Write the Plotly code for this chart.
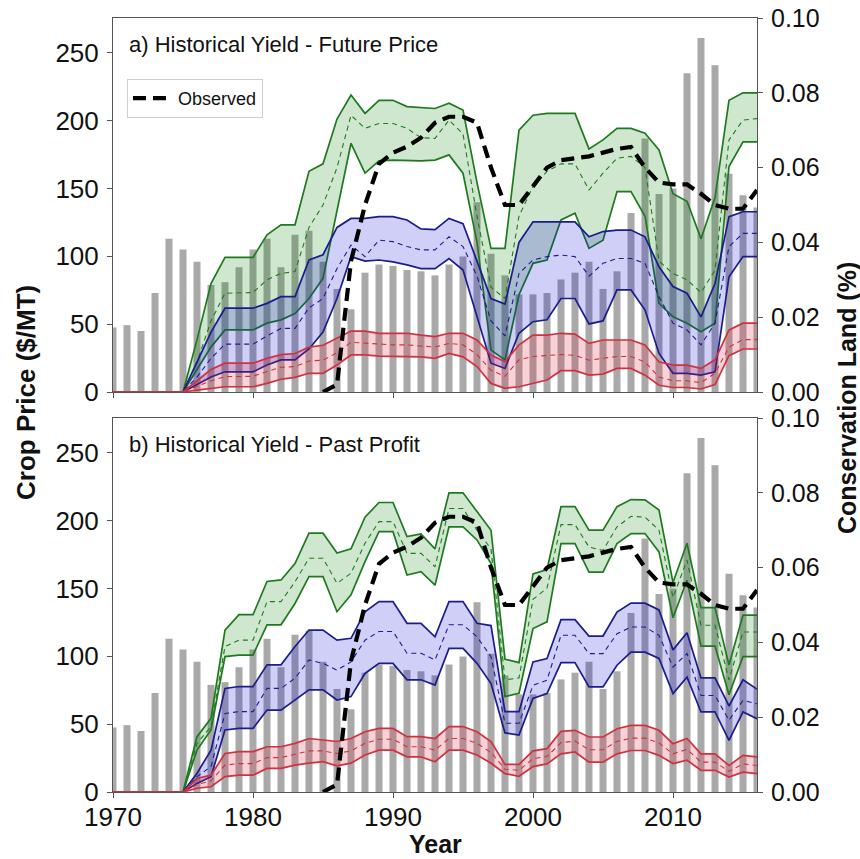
import plotly.graph_objects as go

# ---------------- data ----------------
years = list(range(1970, 2017))

# crop price bars ($/MT), 1970-2016
price = [47.6, 49.3, 45, 73, 113, 105, 96, 79, 81, 92,
         105, 113, 92, 116, 119, 96, 76, 61, 88, 94,
         93, 90, 89, 86, 94, 100, 140, 102, 86, 72,
         72, 73, 83, 88, 96, 76, 89, 132, 187, 146,
         150, 235, 261, 241, 161, 145, 136]

# observed conservation land, 1985-2016
obs_years = list(range(1985, 2017))
observed = [0.0, 0.002, 0.035, 0.050, 0.061, 0.064, 0.0656, 0.068, 0.072, 0.0736,
            0.0736, 0.072, 0.060, 0.050, 0.050, 0.055, 0.060, 0.062, 0.0625, 0.063,
            0.064, 0.065, 0.0655, 0.060, 0.056, 0.0555, 0.0555, 0.053, 0.050, 0.049,
            0.049, 0.054]

# ---- panel a) Historical Yield - Future Price (1970-2016) ----
a_green_up = [0, 0, 0, 0, 0, 0, 0.014, 0.029, 0.036, 0.036,
              0.036, 0.042, 0.0447, 0.0447, 0.059, 0.061, 0.073, 0.0794, 0.0745, 0.078,
              0.078, 0.0763, 0.076, 0.0758, 0.0772, 0.0754, 0.056, 0.0384, 0.0384, 0.070,
              0.074, 0.0745, 0.0745, 0.0745, 0.065, 0.0674, 0.0705, 0.0705, 0.0692, 0.0647,
              0.053, 0.051, 0.041, 0.052, 0.078, 0.080, 0.080]
a_green_mid = [0, 0, 0, 0, 0, 0, 0.008, 0.019, 0.0264, 0.0264,
               0.0266, 0.030, 0.0317, 0.0322, 0.044, 0.050, 0.060, 0.074, 0.0705, 0.0718,
               0.0718, 0.0705, 0.068, 0.0678, 0.0727, 0.069, 0.047, 0.028, 0.025, 0.047,
               0.055, 0.059, 0.061, 0.061, 0.054, 0.0585, 0.0625, 0.063, 0.060, 0.035,
               0.0317, 0.030, 0.0266, 0.0326, 0.0674, 0.0727, 0.0731]
a_green_lo = [0, 0, 0, 0, 0, 0, 0.006, 0.012, 0.0166, 0.0166,
              0.0166, 0.0184, 0.0193, 0.021, 0.025, 0.0304, 0.048, 0.0665, 0.0585, 0.0618,
              0.062, 0.0618, 0.0618, 0.062, 0.0634, 0.0585, 0.040, 0.0112, 0.0086, 0.026,
              0.0344, 0.0353, 0.046, 0.0478, 0.0384, 0.0406, 0.0536, 0.0536, 0.047, 0.0237,
              0.0201, 0.0184, 0.0161, 0.0184, 0.0603, 0.0669, 0.0669]
a_blue_up = [0, 0, 0, 0, 0, 0, 0.008, 0.016, 0.0224, 0.0224,
             0.0224, 0.0237, 0.0255, 0.0255, 0.0353, 0.0367, 0.044, 0.0464, 0.0464, 0.0469,
             0.0469, 0.046, 0.0436, 0.0434, 0.0464, 0.045, 0.035, 0.025, 0.0235, 0.040,
             0.0455, 0.0455, 0.0455, 0.0455, 0.0415, 0.0429, 0.0433, 0.0433, 0.0415, 0.0335,
             0.0282, 0.0264, 0.0201, 0.029, 0.0469, 0.0482, 0.0482]
a_blue_mid = [0, 0, 0, 0, 0, 0, 0.004, 0.009, 0.0128, 0.0128,
              0.0128, 0.015, 0.017, 0.017, 0.0225, 0.025, 0.033, 0.0393, 0.0362, 0.0406,
              0.0402, 0.0389, 0.038, 0.038, 0.0415, 0.0389, 0.031, 0.019, 0.015, 0.0317,
              0.0353, 0.0362, 0.0366, 0.0362, 0.031, 0.0344, 0.0357, 0.0357, 0.0344, 0.0255,
              0.0184, 0.0166, 0.0126, 0.0184, 0.0389, 0.0424, 0.0424]
a_blue_lo = [0, 0, 0, 0, 0, 0, 0.002, 0.004, 0.0054, 0.0054,
             0.0054, 0.0072, 0.0086, 0.0086, 0.0115, 0.016, 0.025, 0.0362, 0.035, 0.0353,
             0.0348, 0.034, 0.033, 0.033, 0.0357, 0.0326, 0.020, 0.0077, 0.0063, 0.0157,
             0.0188, 0.0193, 0.025, 0.025, 0.0182, 0.019, 0.0273, 0.0273, 0.0219, 0.0103,
             0.005, 0.005, 0.0045, 0.0054, 0.0308, 0.0362, 0.0362]
a_red_up = [0, 0, 0, 0, 0, 0, 0.003, 0.006, 0.0077, 0.0077,
            0.0077, 0.009, 0.0100, 0.0103, 0.0120, 0.0125, 0.0143, 0.0163, 0.0163, 0.0157,
            0.0157, 0.0157, 0.0152, 0.0148, 0.0157, 0.0157, 0.0139, 0.0099, 0.0081, 0.0126,
            0.0152, 0.0152, 0.0157, 0.0155, 0.013, 0.0139, 0.0139, 0.0139, 0.0126, 0.0081,
            0.0072, 0.0072, 0.0063, 0.0086, 0.0166, 0.0184, 0.0184]
a_red_mid = [0, 0, 0, 0, 0, 0, 0.0015, 0.003, 0.0041, 0.0041,
             0.0042, 0.0055, 0.0066, 0.0068, 0.0083, 0.0085, 0.0105, 0.0133, 0.0131, 0.0127,
             0.0126, 0.0126, 0.0123, 0.0120, 0.0130, 0.0126, 0.0100, 0.0058, 0.0042, 0.0086,
             0.0095, 0.0098, 0.0100, 0.0098, 0.0085, 0.0090, 0.0095, 0.0095, 0.0080, 0.0040,
             0.0030, 0.0030, 0.0025, 0.0050, 0.0120, 0.0140, 0.0140]
a_red_lo = [0, 0, 0, 0, 0, 0, 0.0005, 0.001, 0.0014, 0.0014,
            0.0014, 0.0023, 0.0034, 0.0039, 0.005, 0.005, 0.0072, 0.0099, 0.0099, 0.0096,
            0.0096, 0.0096, 0.0094, 0.009, 0.0103, 0.0094, 0.0068, 0.0023, 0.001, 0.0014,
            0.0023, 0.0032, 0.0057, 0.0057, 0.0045, 0.0048, 0.0063, 0.0063, 0.0045, 0.0018,
            0.0012, 0.0012, 0.0008, 0.002, 0.0097, 0.0115, 0.0115]

# ---- panel b) Historical Yield - Past Profit (1970-2016) ----
b_green_up = [0, 0, 0, 0, 0, 0, 0.0148, 0.0197, 0.0433, 0.0474,
              0.0474, 0.0563, 0.0567, 0.0611, 0.0692, 0.0692, 0.0639, 0.065, 0.0735, 0.0774,
              0.0774, 0.0683, 0.069, 0.0650, 0.080, 0.080, 0.075, 0.070, 0.0355, 0.0346,
              0.0583, 0.0595, 0.0763, 0.0763, 0.070, 0.070, 0.0763, 0.0782, 0.0781, 0.0754,
              0.056, 0.0665, 0.0493, 0.0493, 0.034, 0.0473, 0.0473]
b_green_mid = [0, 0, 0, 0, 0, 0, 0.013, 0.0175, 0.0389, 0.0406,
               0.0406, 0.0509, 0.0509, 0.0562, 0.0625, 0.0625, 0.0558, 0.0585, 0.0665, 0.0723,
               0.0723, 0.0638, 0.0638, 0.0602, 0.0758, 0.0758, 0.070, 0.065, 0.030, 0.0305,
               0.0515, 0.0545, 0.0715, 0.0715, 0.0655, 0.0646, 0.0709, 0.0737, 0.0735, 0.070,
               0.052, 0.062, 0.0446, 0.0446, 0.030, 0.0428, 0.0428]
b_green_lo = [0, 0, 0, 0, 0, 0, 0.0112, 0.0166, 0.0362, 0.0366,
              0.0366, 0.0447, 0.0447, 0.0504, 0.0576, 0.0576, 0.0482, 0.0527, 0.0616, 0.0696,
              0.0696, 0.058, 0.0589, 0.0553, 0.0709, 0.0709, 0.0674, 0.0611, 0.0255, 0.0264,
              0.0437, 0.0455, 0.0664, 0.0664, 0.0588, 0.0588, 0.0664, 0.0691, 0.0691, 0.0642,
              0.0466, 0.0566, 0.039, 0.039, 0.026, 0.0362, 0.0362]
b_blue_up = [0, 0, 0, 0, 0, 0, 0.005, 0.0112, 0.0277, 0.0282,
             0.0282, 0.034, 0.034, 0.0389, 0.0433, 0.0433, 0.0406, 0.0411, 0.0482, 0.0509,
             0.0509, 0.0451, 0.0451, 0.0415, 0.0509, 0.0509, 0.0451, 0.0445, 0.0215, 0.0215,
             0.0348, 0.0357, 0.0461, 0.0461, 0.0417, 0.0417, 0.0481, 0.0505, 0.0505, 0.0487,
             0.038, 0.0426, 0.0305, 0.0305, 0.023, 0.030, 0.0275]
b_blue_mid = [0, 0, 0, 0, 0, 0, 0.0041, 0.0068, 0.021, 0.0215,
              0.0215, 0.0277, 0.0277, 0.0304, 0.0353, 0.0344, 0.0326, 0.0348, 0.0406, 0.0429,
              0.0429, 0.0371, 0.0371, 0.0353, 0.0447, 0.0447, 0.0415, 0.0362, 0.0184, 0.0184,
              0.0285, 0.0299, 0.0419, 0.0419, 0.037, 0.037, 0.0423, 0.0441, 0.0441, 0.0419,
              0.0334, 0.037, 0.0258, 0.0258, 0.0192, 0.0245, 0.0236]
b_blue_lo = [0, 0, 0, 0, 0, 0, 0.0023, 0.0041, 0.0166, 0.017,
             0.017, 0.0219, 0.0219, 0.0246, 0.0273, 0.0273, 0.0246, 0.0255, 0.0317, 0.0344,
             0.0344, 0.030, 0.030, 0.0286, 0.0384, 0.0384, 0.0344, 0.029, 0.0158, 0.0152,
             0.025, 0.0263, 0.0346, 0.0346, 0.0281, 0.0281, 0.0339, 0.0374, 0.0374, 0.0357,
             0.0263, 0.0307, 0.0214, 0.0214, 0.0138, 0.0214, 0.0196]
b_red_up = [0, 0, 0, 0, 0, 0, 0.0036, 0.0045, 0.0103, 0.0108,
            0.0108, 0.0121, 0.0121, 0.013, 0.0143, 0.0139, 0.0135, 0.0143, 0.0161, 0.017,
            0.017, 0.0148, 0.0148, 0.0143, 0.0175, 0.0175, 0.0161, 0.0135, 0.0074, 0.0074,
            0.011, 0.0116, 0.0162, 0.0165, 0.0147, 0.0147, 0.0169, 0.0178, 0.0178, 0.0165,
            0.0129, 0.0143, 0.0102, 0.0102, 0.0071, 0.0098, 0.0094]
b_red_mid = [0, 0, 0, 0, 0, 0, 0.002, 0.003, 0.0072, 0.0076,
             0.0076, 0.0092, 0.0092, 0.0101, 0.011, 0.011, 0.0103, 0.011, 0.013, 0.0141,
             0.0141, 0.0121, 0.0121, 0.0112, 0.0143, 0.0143, 0.013, 0.0106, 0.0061, 0.0058,
             0.0089, 0.0095, 0.0132, 0.0136, 0.0113, 0.0113, 0.0135, 0.0144, 0.0144, 0.0131,
             0.0102, 0.0114, 0.008, 0.008, 0.0055, 0.0075, 0.0071]
b_red_lo = [0, 0, 0, 0, 0, 0, 0.001, 0.0014, 0.0041, 0.0045,
            0.0045, 0.0063, 0.0063, 0.0072, 0.0077, 0.0081, 0.007, 0.0077, 0.0099, 0.0112,
            0.0112, 0.0094, 0.0094, 0.0081, 0.0112, 0.0112, 0.0099, 0.0077, 0.0049, 0.0042,
            0.0068, 0.0075, 0.0102, 0.0107, 0.008, 0.008, 0.0102, 0.0111, 0.0111, 0.0098,
            0.0076, 0.0085, 0.0058, 0.0058, 0.004, 0.0053, 0.0049]

x_ticks = [1970, 1980, 1990, 2000, 2010]
price_ticks = [0, 50, 100, 150, 200, 250]
cons_ticks = [0.0, 0.02, 0.04, 0.06, 0.08, 0.10]
panel_titles = ["a) Historical Yield - Future Price", "b) Historical Yield - Past Profit"]

# ---------------- styles ----------------
FONT = "Liberation Sans, Arial, Helvetica, sans-serif"
W, H = 860, 859
XL, XR = 113, 757
PANELS = [(18, 392), (418, 792)]
BAR_COLOR = "#a9a9a9"
BANDS = {
    "green": dict(line="#1f7a1f", fill="rgba(0,128,0,0.19)"),
    "blue": dict(line="#1c1c8c", fill="rgba(0,0,220,0.19)"),
    "red": dict(line="#d2303f", fill="rgba(220,30,50,0.2)"),
}
AXIS_LINE = "#555555"


def ydom(top, bot):
    return [1 - bot / H, 1 - top / H]


fig = go.Figure()

panels_data = [
    dict(green=(a_green_lo, a_green_mid, a_green_up), blue=(a_blue_lo, a_blue_mid, a_blue_up),
         red=(a_red_lo, a_red_mid, a_red_up)),
    dict(green=(b_green_lo, b_green_mid, b_green_up), blue=(b_blue_lo, b_blue_mid, b_blue_up),
         red=(b_red_lo, b_red_mid, b_red_up)),
]
axis_ids = [("x", "y", "y2"), ("x2", "y3", "y4")]

for p, (xa, ya, yb) in enumerate(axis_ids):
    fig.add_trace(go.Bar(x=years, y=price, xaxis=xa, yaxis=ya, width=0.5,
                         marker=dict(color=BAR_COLOR, line=dict(width=0)),
                         showlegend=False, hoverinfo="skip"))
    for band in ["green", "blue", "red"]:
        lo, mid, up = panels_data[p][band]
        st = BANDS[band]
        fig.add_trace(go.Scatter(x=years, y=lo, xaxis=xa, yaxis=yb, mode="lines",
                                 line=dict(color=st["line"], width=1.7), showlegend=False))
        fig.add_trace(go.Scatter(x=years, y=up, xaxis=xa, yaxis=yb, mode="lines",
                                 line=dict(color=st["line"], width=1.7), fill="tonexty",
                                 fillcolor=st["fill"], showlegend=False))
        fig.add_trace(go.Scatter(x=years, y=mid, xaxis=xa, yaxis=yb, mode="lines",
                                 line=dict(color=st["line"], width=1.1, dash="5px,4px"),
                                 showlegend=False))
    fig.add_trace(go.Scatter(x=obs_years, y=observed, xaxis=xa, yaxis=yb, mode="lines",
                             line=dict(color="black", width=4.2, dash="13px,7px"),
                             name="Observed", showlegend=(p == 0)))

tickfont = dict(family=FONT, size=26, color="#111111")
common_x = dict(range=[1970, 2016], tickvals=x_ticks, ticks="outside", ticklen=5,
                tickcolor=AXIS_LINE, showline=True, mirror=True, linecolor=AXIS_LINE,
                linewidth=1, showgrid=False, zeroline=False, tickfont=tickfont,
                domain=[XL / W, XR / W], automargin=False, ticklabelstandoff=-3)
common_yl = dict(range=[0, 275.8], tickvals=price_ticks, ticks="outside", ticklen=5,
                 tickcolor=AXIS_LINE, showline=True, linecolor=AXIS_LINE, linewidth=1,
                 showgrid=False, zeroline=False, tickfont=tickfont, ticklabelstandoff=3,
                 automargin=False)
common_yr = dict(range=[0, 0.1], tickvals=cons_ticks, tickformat=".2f", ticks="outside",
                 ticklen=5, tickcolor=AXIS_LINE, showline=True, linecolor=AXIS_LINE,
                 linewidth=1, showgrid=False, zeroline=False,
                 tickfont=dict(family=FONT, size=25, color="#111111"),
                 side="right", ticklabelstandoff=3, automargin=False)

fig.update_layout(
    width=W, height=H, margin=dict(l=0, r=0, t=0, b=0, autoexpand=False),
    paper_bgcolor="white", plot_bgcolor="rgba(0,0,0,0)",
    font=dict(family=FONT, color="#111111"),
    barmode="overlay",
    xaxis=dict(common_x, anchor="y", showticklabels=False),
    yaxis=dict(common_yl, anchor="x", domain=ydom(*PANELS[0])),
    yaxis2=dict(common_yr, anchor="x", overlaying="y"),
    xaxis2=dict(common_x, anchor="y3"),
    yaxis3=dict(common_yl, anchor="x2", domain=ydom(*PANELS[1])),
    yaxis4=dict(common_yr, anchor="x2", overlaying="y3"),
    legend=dict(x=127 / W, y=1 - 79 / H, xanchor="left", yanchor="top",
                bgcolor="white", bordercolor="#cfcfcf", borderwidth=1,
                font=dict(family=FONT, size=18, color="#111111"), itemwidth=40),
    showlegend=True,
)

annotations = []
for (top, bot), title in zip(PANELS, panel_titles):
    annotations.append(dict(text=title, x=127 / W, y=1 - (top + 27) / H, xref="paper",
                            yref="paper", xanchor="left", yanchor="middle", showarrow=False,
                            font=dict(family=FONT, size=22, color="#111111")))
annotations.append(dict(text="<b>Crop Price ($/MT)</b>", x=26 / W, y=1 - 393 / H,
                        xref="paper", yref="paper", textangle=-90, showarrow=False,
                        xanchor="center", yanchor="middle",
                        font=dict(family=FONT, size=26, color="#111111")))
annotations.append(dict(text="<b>Conservation Land (%)</b>", x=847 / W, y=1 - 398 / H,
                        xref="paper", yref="paper", textangle=-90, showarrow=False,
                        xanchor="center", yanchor="middle",
                        font=dict(family=FONT, size=25, color="#111111")))
annotations.append(dict(text="<b>Year</b>", x=435 / W, y=1 - 844 / H, xref="paper",
                        yref="paper", showarrow=False, xanchor="center", yanchor="middle",
                        font=dict(family=FONT, size=25, color="#111111")))
fig.update_layout(annotations=annotations)

fig.write_html("out.html", config={"displayModeBar": False},
               post_script="document.body.style.margin='0px';"
                           "document.body.style.padding='0px';"
                           "document.body.style.overflow='hidden';")
